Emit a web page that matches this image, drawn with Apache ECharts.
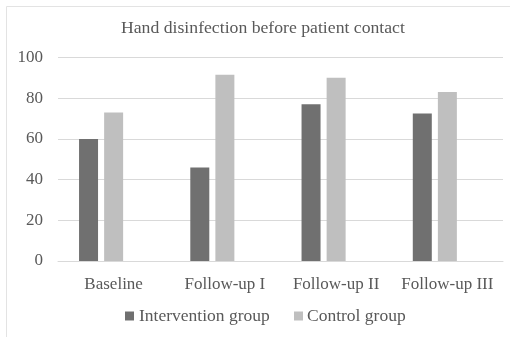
<!DOCTYPE html>
<html>
<head>
<meta charset="utf-8">
<script src="https://cdn.jsdelivr.net/npm/echarts@6/dist/echarts.min.js"></script>
<style>
  html, body { margin: 0; padding: 0; background: #fff; }
  #chart { width: 510px; height: 337px; }
</style>
</head>
<body>
<div id="chart"></div>
<script>
// Data
const categories = ['Baseline', 'Follow-up I', 'Follow-up II', 'Follow-up III'];
const interventionGroup = [60, 46, 77, 72.5];
const controlGroup = [73, 91.5, 90, 83];
const seriesNames = ['Intervention group', 'Control group'];
const yTicks = { min: 0, max: 100, interval: 20 };

const font = "'Liberation Serif', 'Times New Roman', serif";
const textColor = '#595959';
const seriesColors = ['#707070', '#bfbfbf'];

const chart = echarts.init(document.getElementById('chart'), null, { renderer: 'canvas' });

const barStyle = { barWidth: 19, barGap: '32%' };

// Legend drawn as a row of swatch + label pairs under the axis
const legendY = 316;
const legendSlots = [{ box: 125, text: 139 }, { box: 294, text: 307 }];
const legendGraphics = [];
seriesNames.forEach((name, i) => {
  legendGraphics.push({
    type: 'rect',
    shape: { x: legendSlots[i].box, y: legendY - 4.5, width: 9, height: 9 },
    style: { fill: seriesColors[i] },
    silent: true
  });
  legendGraphics.push({
    type: 'text',
    x: legendSlots[i].text,
    y: legendY,
    style: {
      text: name,
      fill: textColor,
      font: '17.5px ' + font,
      verticalAlign: 'middle',
      align: 'left'
    },
    silent: true
  });
});

chart.setOption({
  animation: false,
  backgroundColor: '#fff',
  textStyle: { fontFamily: font },
  title: {
    text: 'Hand disinfection before patient contact',
    left: 116,
    top: 14,
    textStyle: { fontFamily: font, fontSize: 17.7, fontWeight: 'normal', color: textColor }
  },
  graphic: [{
    type: 'rect',
    shape: { x: 6.5, y: 6.5, width: 520, height: 340 },
    style: { fill: 'none', stroke: '#e3e3e3', lineWidth: 1 },
    silent: true
  }].concat(legendGraphics),
  legend: { show: false },
  grid: { left: 58, right: 7, top: 57.5, bottom: 76, containLabel: false },
  xAxis: {
    type: 'category',
    data: categories,
    axisLine: { lineStyle: { color: '#d9d9d9' } },
    axisTick: { show: false },
    axisLabel: { interval: 0, fontFamily: font, fontSize: 17, color: textColor, margin: 15 }
  },
  yAxis: {
    type: 'value',
    min: yTicks.min,
    max: yTicks.max,
    interval: yTicks.interval,
    axisLine: { show: false },
    axisTick: { show: false },
    splitLine: { lineStyle: { color: '#d9d9d9' } },
    axisLabel: { fontFamily: font, fontSize: 17, color: textColor, margin: 15 }
  },
  series: [
    Object.assign({ name: seriesNames[0], type: 'bar', data: interventionGroup, itemStyle: { color: seriesColors[0] } }, barStyle),
    Object.assign({ name: seriesNames[1], type: 'bar', data: controlGroup, itemStyle: { color: seriesColors[1] } }, barStyle),
    // empty third slot in each category group
    Object.assign({ name: 'spacer', type: 'bar', data: [], itemStyle: { color: '#a5a5a5' } }, barStyle)
  ]
});
</script>
</body>
</html>
